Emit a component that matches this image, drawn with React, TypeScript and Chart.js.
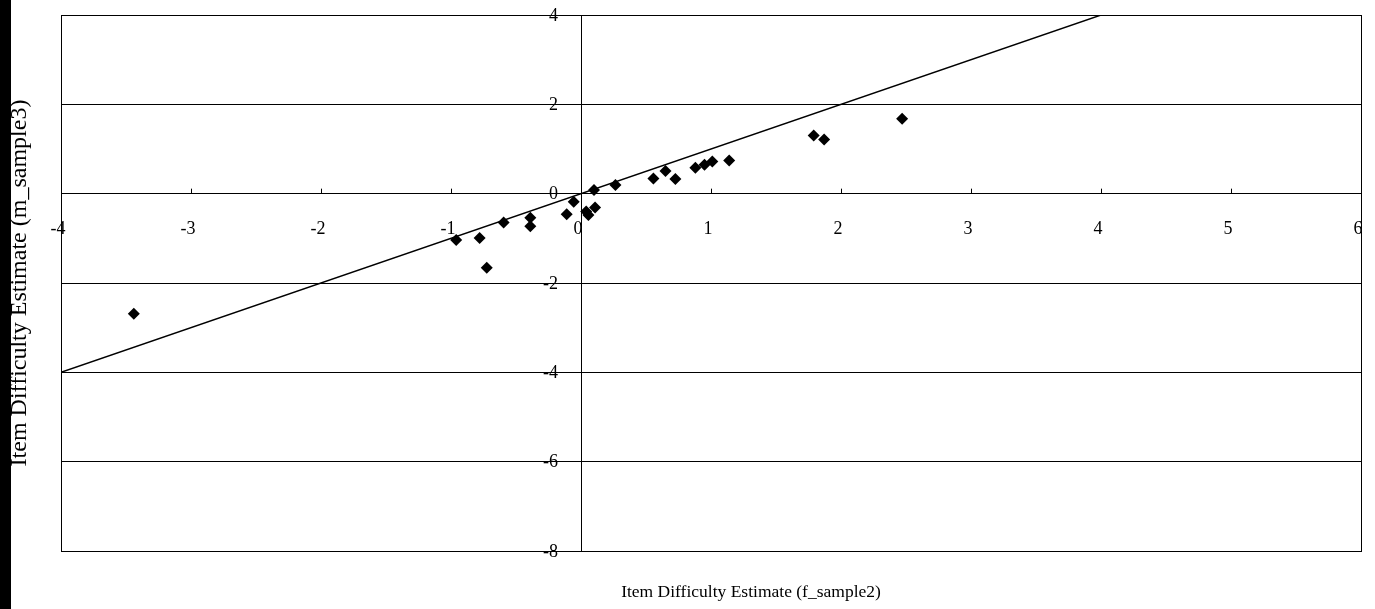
import React, { useEffect, useRef } from "react";
import { Chart, registerables } from "chart.js";

Chart.register(...registerables);

// Item difficulty estimates: f_sample2 (x) vs m_sample3 (y)
const xValues = [-0.96, -0.78, -0.725, -0.595, -0.39, -0.39, -0.11, -0.056, 0.04, 0.057, 0.108, 0.1, 0.265, 0.557, 0.65, 0.726, 0.88, 0.95, 1.01, 1.14, 1.79, 1.87, 2.47, -3.44];
const yValues = [-1.04, -0.99, -1.66, -0.645, -0.54, -0.73, -0.46, -0.18, -0.4, -0.48, -0.31, 0.08, 0.195, 0.34, 0.51, 0.33, 0.58, 0.645, 0.72, 0.74, 1.3, 1.21, 1.68, -2.69];

// identity line
const lineX = [-4, 4];
const lineY = [-4, 4];

const xTicks = [-4, -3, -2, -1, 0, 1, 2, 3, 4, 5, 6];
const yTicks = [-8, -6, -4, -2, 0, 2, 4];

const xTitle = "Item Difficulty Estimate (f_sample2)";
const yTitle = "Item Difficulty Estimate (m_sample3)";

const FONT = "'Liberation Serif', 'Times New Roman', serif";

const framePlugin = {
  id: "frame",
  beforeDatasetsDraw(chart: any) {
    const { ctx, chartArea } = chart;
    const xs = chart.scales.x;
    const ys = chart.scales.y;
    ctx.save();
    ctx.strokeStyle = "#000";
    ctx.lineWidth = 1;
    ctx.strokeRect(chartArea.left + 0.5, chartArea.top + 0.5, chartArea.right - chartArea.left, chartArea.bottom - chartArea.top);
    // small upward tick marks on the x axis
    const y0 = ys.getPixelForValue(0);
    ctx.beginPath();
    for (const t of xTicks) {
      if (t === xTicks[0] || t === xTicks[xTicks.length - 1]) continue;
      const px = Math.round(xs.getPixelForValue(t)) + 0.5;
      ctx.moveTo(px, y0 - 5);
      ctx.lineTo(px, y0);
    }
    ctx.stroke();
    ctx.restore();
  },
  afterDraw(chart: any) {
    const { ctx, chartArea } = chart;
    const xs = chart.scales.x;
    const ys = chart.scales.y;
    const x0 = xs.getPixelForValue(0);
    const y0 = ys.getPixelForValue(0);
    ctx.save();
    ctx.fillStyle = "#000";
    ctx.font = `18px ${FONT}`;
    // x tick labels below the horizontal axis
    ctx.textAlign = "center";
    ctx.textBaseline = "middle";
    for (const t of xTicks) {
      ctx.fillText(String(t), xs.getPixelForValue(t) - 3, y0 + 36);
    }
    // y tick labels left of the vertical axis
    ctx.textAlign = "right";
    for (const t of yTicks) {
      ctx.fillText(String(t), x0 - 23, ys.getPixelForValue(t) + 1);
    }
    // axis titles
    ctx.textAlign = "center";
    ctx.font = `17.5px ${FONT}`;
    ctx.fillText(xTitle, (chartArea.left + chartArea.right) / 2 + 40, 592);
    ctx.translate(20, 283);
    ctx.rotate(-Math.PI / 2);
    ctx.font = `24px ${FONT}`;
    ctx.fillText(yTitle, 0, 0);
    ctx.restore();
  },
};

export default function App() {
  const ref = useRef<HTMLCanvasElement | null>(null);
  useEffect(() => {
    if (!ref.current) return;
    const chart = new Chart(ref.current, {
      type: "scatter",
      data: {
        datasets: [
          {
            type: "line",
            label: "identity",
            data: lineX.map((x, i) => ({ x, y: lineY[i] })),
            borderColor: "#000",
            borderWidth: 1.4,
            pointRadius: 0,
            fill: false,
            order: 2,
          } as any,
          {
            label: "items",
            data: xValues.map((x, i) => ({ x, y: yValues[i] })),
            pointStyle: "rectRot",
            pointRadius: 6,
            backgroundColor: "#000",
            borderColor: "#000",
            borderWidth: 0,
            order: 1,
          },
        ],
      },
      options: {
        animation: false,
        responsive: false,
        events: [],
        layout: { padding: { left: 61, right: 14, top: 15, bottom: 58 } },
        plugins: { legend: { display: false }, tooltip: { enabled: false } },
        scales: {
          x: {
            type: "linear",
            min: -4,
            max: 6,
            position: { y: 0 } as any,
            afterBuildTicks: (s: any) => {
              s.ticks = xTicks.map((v) => ({ value: v }));
            },
            grid: { display: false },
            border: { display: false },
            ticks: { display: false },
          },
          y: {
            type: "linear",
            min: -8,
            max: 4,
            position: { x: 0 } as any,
            afterBuildTicks: (s: any) => {
              s.ticks = yTicks.map((v) => ({ value: v }));
            },
            grid: { display: true, drawOnChartArea: true, drawTicks: false, color: "#000", lineWidth: 1 },
            border: { display: true, color: "#000", width: 1 },
            ticks: { display: false },
          },
        },
      },
      plugins: [framePlugin],
    });
    return () => chart.destroy();
  }, []);
  return (
    <div style={{ position: "absolute", left: 0, top: 0, width: 1375, height: 609, background: "#fff" }}>
      <div style={{ position: "absolute", left: 0, top: 0, width: 11, height: 609, background: "#000" }} />
      <canvas ref={ref} width={1375} height={609} style={{ position: "absolute", left: 0, top: 0 }} />
    </div>
  );
}
